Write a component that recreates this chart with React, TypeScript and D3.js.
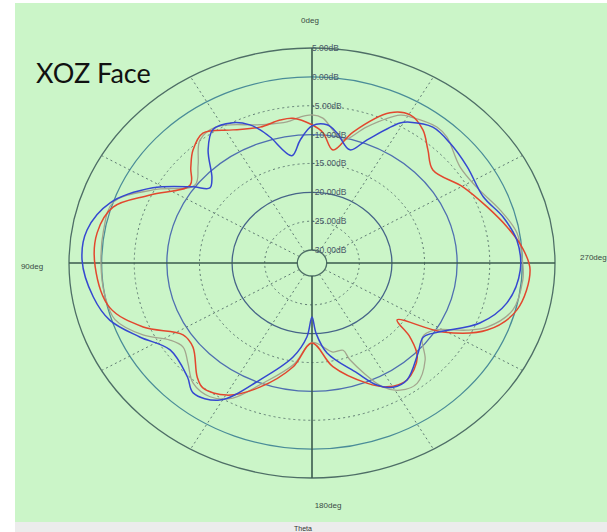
import React from 'react';
import * as d3 from 'd3';

// grid levels (dB) and their labels
const ringLevels = [5, 0, -5, -10, -15, -20, -25, -30];
const ringLabels = ['5.00dB', '0.00dB', '-5.00dB', '-10.00dB', '-15.00dB', '-20.00dB', '-25.00dB', '-30.00dB'];
const spokeAngles = [0, 30, 60, 90, 120, 150, 180, 210, 240, 270, 300, 330];

// red trace
const redAngles = [0, 6.6, 11.2, 18.7, 27.7, 36.6, 43, 48.4, 54.1, 64.6, 72.4, 81, 91, 104, 113.2, 122.2, 128.6, 138.3, 142.3, 150.3, 159.6, 170.8, 180, 190.1, 202, 208.2, 215.7, 224.7, 229.5, 232.9, 239.2, 246.6, 255.5, 267.9, 274.9, 281.8, 289.9, 299.6, 311, 317.8, 323.6, 329.6, 335.3, 344.5, 350.7, 355.7];
const redGain = [-8.3, -7.0, -7.0, -7.4, -6.2, -4.2, -5.5, -7.4, -9.2, -4.8, -0.25, 1.1, 1.0, -0.3, -4.1, -8.9, -8.9, -5.8, -4.9, -5.9, -9.3, -14.0, -18.4, -14.0, -9.8, -7.9, -7.3, -9.3, -12.5, -15.9, -8.9, -3.0, 0.2, 1.2, 0.05, -1.7, -3.7, -5.6, -7.7, -5.8, -3.6, -2.5, -3.6, -8.7, -12.4, -9.6];

// blue trace
const blueAngles = [0, 4.9, 9.4, 16.4, 19.1, 21.7, 26.5, 33.3, 39.1, 46.2, 50.3, 54.2, 61.9, 71.4, 80.6, 89.2, 99.9, 107.7, 115.9, 124.7, 135.9, 141, 149.2, 158.5, 169.9, 176.5, 180, 183, 188.4, 199.9, 205.2, 210, 215.7, 226.1, 233, 238.7, 248, 256.9, 267.8, 277.2, 285.2, 293.6, 305, 314.5, 321.8, 328.4, 330.9, 338.4, 343.5, 350.3, 354.5];
const blueGain = [-8.5, -10.9, -13.4, -9.5, -7.8, -6.5, -5.1, -4.6, -7.0, -11.0, -11.9, -9.7, -4.6, 0.4, 2.7, 3.0, 1.8, 0.3, -2.9, -5.8, -4.8, -3.3, -4.6, -10.5, -15.7, -19.4, -22.9, -20.0, -16.5, -12.0, -8.9, -7.4, -7.3, -9.7, -10.9, -9.3, -4.5, -1.6, -0.3, -0.6, -1.9, -3.6, -3.2, -2.6, -2.3, -3.6, -4.5, -9.3, -11.8, -9.4, -8.2];

// grey trace
const greyAngles = [0, 4.1, 8.9, 18.4, 31.7, 38.9, 45.8, 53, 62.5, 71, 80, 90, 100, 108, 115.7, 121.5, 126.4, 132.4, 138.7, 146, 152.6, 159.3, 171, 180, 191.7, 197.5, 199.1, 206.8, 211.5, 217.7, 225.9, 232.8, 237.9, 243.9, 247.5, 255.2, 264.8, 269, 279.4, 287.7, 297.5, 306.3, 316.5, 320.9, 329.3, 332.2, 340.4, 347.4, 352.1, 356.2];
const greyGain = [-6.6, -6.9, -7.5, -7.0, -4.5, -4.9, -7.9, -9.8, -4.8, 0.0, 0.2, 0.1, 0.0, -0.5, -3.5, -6.7, -7.7, -6.5, -4.6, -4.3, -5.9, -9.7, -14.5, -18.5, -16.5, -16.4, -14.5, -8.2, -6.4, -5.9, -8.1, -11.0, -10.3, -5.8, -3.2, -0.4, 0.2, 0.1, -0.4, -2.0, -3.8, -4.1, -2.2, -1.9, -2.8, -3.3, -7.2, -10.4, -9.0, -7.1];

const W = 607;
const H = 532;
const cx = 312;
const cy = 263;
const rx = 243;
const ry = 215;

const r = d3.scaleLinear().domain([-30, 5]).range([13 / 215, 1]);

const pt = (deg: number, u: number): [number, number] => {
  const a = (deg * Math.PI) / 180;
  return [cx - rx * u * Math.sin(a), cy - ry * u * Math.cos(a)];
};

const trace = (angles: number[], gain: number[]) => {
  const pts = angles.map((a, i) => pt(a, r(gain[i])));
  return d3.line().curve(d3.curveCatmullRomClosed.alpha(0.5))(pts) || '';
};

const ringColor: Record<number, string> = {
  5: '#4e6e66',
  0: '#4a8c98',
  [-10]: '#4f6fb0',
  [-20]: '#466488',
  [-30]: '#4e6e66',
};

const App = () => {
  const u0 = r(-30);
  return (
    <svg width={W} height={H} style={{ position: 'absolute', left: 0, top: 0 }}>
      <rect x={0} y={0} width={W} height={H} fill="#ffffff" />
      <rect x={15} y={3} width={W - 15} height={519} fill="#cbf5c8" />
      <rect x={15} y={522} width={W - 15} height={10} fill="#ececec" />
      <text x={303} y={531} fontSize={7} fontFamily="Liberation Sans, sans-serif" textAnchor="middle" fill="#333">Theta</text>

      {/* rings */}
      {ringLevels.map(lv => {
        const u = r(lv);
        const solid = lv % 10 === 0 || lv === 5;
        return (
          <ellipse
            key={lv}
            cx={cx}
            cy={cy}
            rx={rx * u}
            ry={ry * u}
            fill="none"
            stroke={solid ? ringColor[lv] : '#5f7a72'}
            strokeWidth={solid ? 1.3 : 1}
            strokeDasharray={solid ? undefined : '2,3'}
          />
        );
      })}

      {/* spokes */}
      {spokeAngles.map(a => {
        const [x1, y1] = pt(a, u0);
        const [x2, y2] = pt(a, 1);
        const main = a % 90 === 0;
        return (
          <line
            key={a}
            x1={x1}
            y1={y1}
            x2={x2}
            y2={y2}
            stroke={main ? '#3a5a4e' : '#5f7a72'}
            strokeWidth={main ? 1.6 : 1}
            strokeDasharray={main ? undefined : '2,3'}
          />
        );
      })}

      {/* traces */}
      <path d={trace(greyAngles, greyGain)} fill="none" stroke="#a3a58e" strokeWidth={1.3} />
      <path d={trace(redAngles, redGain)} fill="none" stroke="#e2472e" strokeWidth={1.5} />
      <path d={trace(blueAngles, blueGain)} fill="none" stroke="#3548d0" strokeWidth={1.5} />

      {/* dB labels */}
      {ringLabels.map((t, i) => (
        <text
          key={t}
          x={cx}
          y={cy - ry * r(ringLevels[i]) + 3}
          fontSize={8.5}
          fontFamily="Liberation Sans, sans-serif"
          fill="#4a5a68"
        >
          {t}
        </text>
      ))}

      {/* angle labels */}
      <g fontSize={8} fontFamily="Liberation Sans, sans-serif" fill="#3a4a44">
        <text x={cx - 2} y={cy - ry - 25} textAnchor="middle">0deg</text>
        <text x={cx - rx - 37} y={cy + 6} textAnchor="middle">90deg</text>
        <text x={cx + 16} y={cy + ry + 30} textAnchor="middle">180deg</text>
        <text x={cx + rx + 25} y={cy - 3}>270deg</text>
      </g>

      <text x={36} y={83} fontSize={27} fontFamily="Lato, sans-serif" fill="#111">XOZ Face</text>
    </svg>
  );
};

export default App;
